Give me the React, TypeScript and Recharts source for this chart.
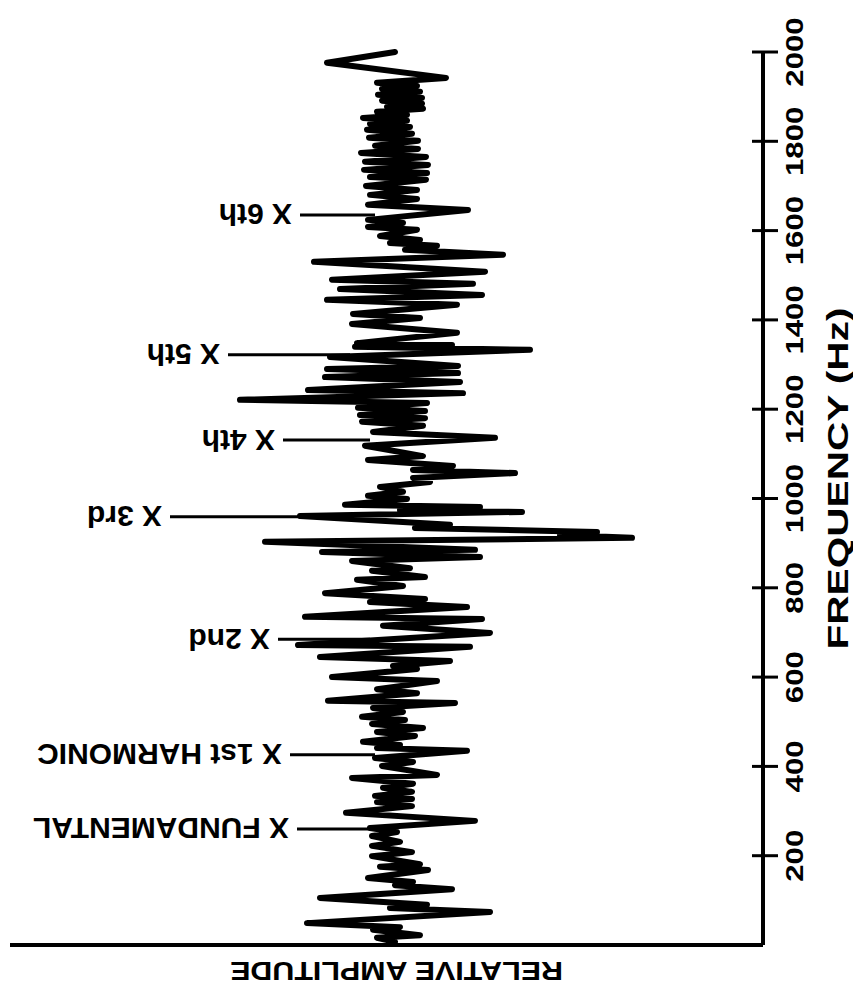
import { LineChart, Line, XAxis, YAxis, ReferenceLine } from "recharts";

// spectrum trace, listed from the top of the plot (2000 Hz) downwards
const frequencyHz = [
  2000, 1976, 1942, 1931, 1924, 1917, 1911, 1904, 1897, 1891, 1884, 1877, 1873, 1866, 1859, 1852, 1846, 1839, 1832, 1826,
  1817, 1808, 1801, 1790, 1783, 1774, 1765, 1754, 1747, 1736, 1729, 1720, 1714, 1700, 1691, 1680,
  1671, 1658, 1646, 1624, 1617, 1608, 1602, 1588, 1579, 1572, 1566, 1557, 1546, 1530, 1508, 1490, 1481, 1469, 1456, 1445,
  1434, 1413, 1404, 1391, 1371, 1348,
  1344, 1340, 1333, 1317, 1297, 1290, 1281, 1272, 1261, 1243, 1236, 1221, 1214, 1203, 1196, 1187, 1180, 1172, 1163, 1149,
  1136, 1118, 1095, 1086, 1073, 1064, 1057, 1046, 1037, 1026, 1015, 1006,
  999, 986, 981, 974, 970, 961, 941, 934, 925, 918, 912, 903, 885, 880, 869, 860, 844, 838, 824, 818,
  804, 788, 775, 768, 757, 735, 730, 715, 699, 672,
  668, 645, 636, 625, 618, 600, 591, 573, 564, 547, 542, 531, 522, 511, 504, 495, 486, 477, 468, 455,
  448, 441, 435, 419, 410, 401, 381, 374, 361, 352, 343, 334,
  327, 320, 311, 296, 278, 262, 253, 244, 231, 222, 208, 199, 181, 175, 168, 150, 141, 134, 125, 105,
  90, 83, 74, 49, 40, 34, 22, 16, 7,
];

const amplitude = [
  5, -63, 56, -13, 27, -8, 30, -12, 32, -8, 32, -3, 33, -13, 17, -27, 17, -20, 20, -23,
  22, -21, 28, -15, 28, -29, 36, -25, 38, -26, 37, -20, 36, -24, 27, -20,
  27, -22, 78, -22, 13, -22, 27, -10, 30, 0, 47, 15, 113, -76, 95, -58, 83, -50, 92, -63,
  67, -37, 30, -38, 67, -33,
  62, -35, 140, -60, 68, -63, 68, -65, 70, -82, 73, -150, 37, -32, 35, -30, 35, -28, 33, -17,
  105, -25, 33, -22, 63, 23, 125, 23, 40, -10, 13, -22,
  17, -45, 90, 10, 132, -90, 60, 25, 207, 170, 242, -125, 85, -68, 90, -38, 20, -18, 35, -33,
  13, -65, 35, -20, 77, -85, 92, -7, 100, -92,
  80, -70, 60, 3, 27, -58, 47, -13, 27, -62, 65, -17, 13, -28, 15, -18, 33, -13, 25, -27,
  10, -13, 77, -15, 23, -8, 47, -38, 23, -7, 22, -15,
  22, -13, 22, -44, 85, -20, 7, -18, 10, -18, 22, -18, 30, -10, 38, -22, 23, 5, 62, -70,
  37, 0, 100, -83, 10, -17, 30, -13, 5,
];

const freqTicks = [200, 400, 600, 800, 1000, 1200, 1400, 1600, 1800, 2000];

// harmonic markers
const harmonicLabels = ["X FUNDAMENTAL", "X 1st HARMONIC", "X 2nd", "X 3rd", "X 4th", "X 5th", "X 6th"];
const harmonicHz = [260, 426, 685, 959, 1131, 1322, 1635];
const markerStart = [-93, -100, -112, -220, -107, -162, -90];
const markerEnd = [-20, -15, -20, -40, -20, -40, -15];

const data = frequencyHz.map((freq, i) => ({ freq, amp: amplitude[i] }));

const FONT = "'Liberation Sans', Arial, Helvetica, sans-serif";

const FreqTick = (props: any) => {
  const { x, y, payload } = props;
  return (
    <g>
      <line x1={x - 11} y1={y} x2={x + 15} y2={y} stroke="#000" strokeWidth={3} />
      <text
        transform={`translate(${x + 32},${y}) rotate(-90) scale(1.3,1)`}
        textAnchor="middle"
        dominantBaseline="central"
        fontFamily={FONT}
        fontWeight="bold"
        fontSize={24}
        fill="#000"
      >
        {payload.value}
      </text>
    </g>
  );
};

const markerLabel = (text: string) => (props: any) => {
  const { viewBox } = props;
  return (
    <text
      transform={`translate(${viewBox.x - 8},${viewBox.y}) rotate(180)`}
      textAnchor="start"
      dominantBaseline="central"
      fontFamily={FONT}
      fontWeight="bold"
      fontSize={30}
      fill="#000"
    >
      {text}
    </text>
  );
};

export default function App() {
  return (
    <LineChart
      width={853}
      height={985}
      data={data}
      layout="vertical"
      margin={{ top: 44, right: 0, bottom: 0, left: 2 }}
    >
      <XAxis
        type="number"
        dataKey="amp"
        domain={[-380, 373]}
        height={48}
        tick={false}
        tickLine={false}
        axisLine={{ stroke: "#000", strokeWidth: 4 }}
        label={(props: any) => {
          const vb = props.viewBox;
          return (
            <text
              transform={`translate(${vb.x + vb.width / 2 + 10},${vb.y + 26}) rotate(180) scale(1.17,1)`}
              textAnchor="middle"
              dominantBaseline="central"
              fontFamily={FONT}
              fontWeight="bold"
              fontSize={26}
              fill="#000"
            >
              RELATIVE AMPLITUDE
            </text>
          );
        }}
      />
      <YAxis
        type="number"
        dataKey="freq"
        orientation="right"
        reversed
        domain={[0, 2000]}
        ticks={freqTicks}
        width={98}
        tickSize={0}
        tickMargin={0}
        tickLine={false}
        tick={<FreqTick />}
        axisLine={{ stroke: "#000", strokeWidth: 4 }}
        label={(props: any) => {
          const vb = props.viewBox;
          return (
            <text
              transform={`translate(${vb.x + 75},${vb.y + vb.height / 2 - 20}) rotate(-90) scale(1.4,1)`}
              textAnchor="middle"
              dominantBaseline="central"
              fontFamily={FONT}
              fontWeight="bold"
              fontSize={29}
              fill="#000"
            >
              FREQUENCY (Hz)
            </text>
          );
        }}
      />
      {harmonicHz.map((hz, i) => (
        <ReferenceLine
          key={harmonicLabels[i]}
          segment={[
            { x: markerStart[i], y: hz },
            { x: markerEnd[i], y: hz },
          ]}
          stroke="#000"
          strokeWidth={3}
          label={markerLabel(harmonicLabels[i])}
        />
      ))}
      <Line
        type="linear"
        dataKey="amp"
        stroke="#000"
        strokeWidth={6}
        strokeLinejoin="round"
        strokeLinecap="round"
        dot={false}
        isAnimationActive={false}
      />
    </LineChart>
  );
}
